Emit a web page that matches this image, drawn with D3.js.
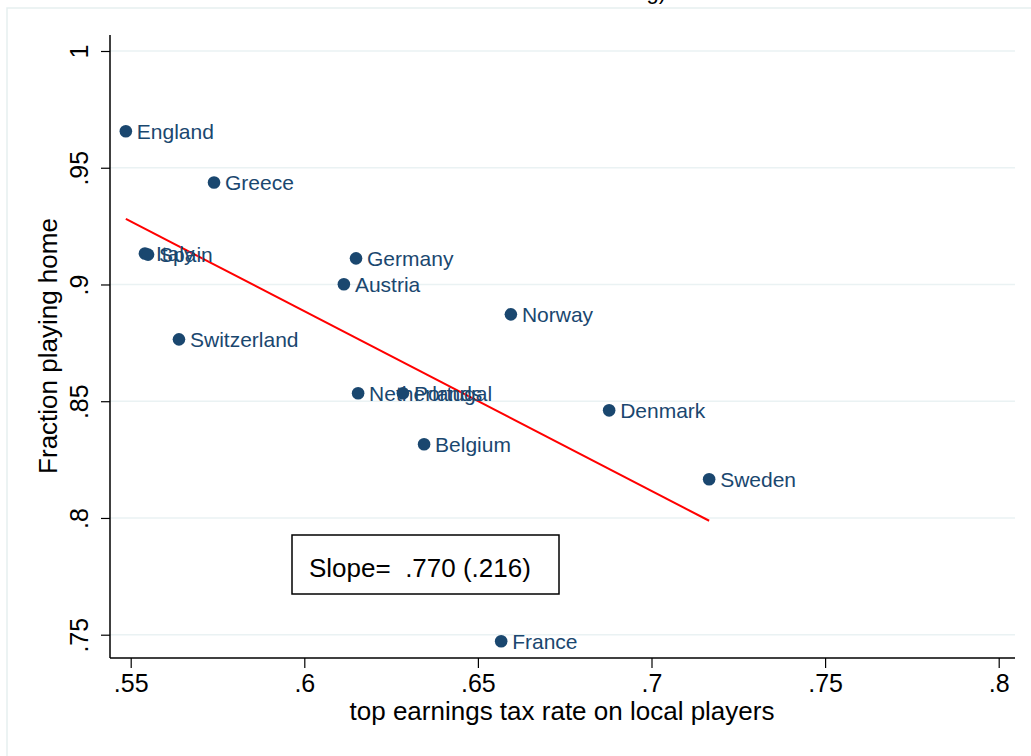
<!DOCTYPE html>
<html><head><meta charset="utf-8">
<script src="https://cdn.jsdelivr.net/npm/d3@7"></script>
<style>body{margin:0;background:#fff}svg{display:block;font-family:"Liberation Sans",Arial,sans-serif}</style>
</head><body>
<svg id="c" width="1031" height="756"></svg>
<script>
const countries = ["England","Greece","Italy","Spain","Germany","Austria","Norway","Switzerland","Netherlands","Portugal","Denmark","Belgium","Sweden","France"];
const taxRate   = [0.5486,0.5740,0.5541,0.5550,0.6149,0.6114,0.6595,0.5639,0.6155,0.6284,0.6878,0.6345,0.7166,0.6567];
const fracHome  = [0.9656,0.9437,0.9133,0.9128,0.9112,0.9001,0.8872,0.8765,0.8534,0.8534,0.8461,0.8316,0.8166,0.7472];
const fitX = [0.5486,0.7166];
const fitY = [0.9281,0.7988];
const xTicks = [0.55,0.6,0.65,0.7,0.75,0.8];
const xTickLabels = [".55",".6",".65",".7",".75",".8"];
const yTicks = [0.75,0.8,0.85,0.9,0.95,1];
const yTickLabels = [".75",".8",".85",".9",".95","1"];
const slopeText = "Slope=  .770 (.216)";

const svg = d3.select("#c");
const navy = "#1a476f";
const x = d3.scaleLinear().domain([0.55,0.8]).range([130.7,998.7]);
const y = d3.scaleLinear().domain([0.75,1]).range([634.7,51]);

// outer frame
svg.append("path").attr("d","M7,756 V8 H1031").attr("fill","none").attr("stroke","#e6eff0").attr("stroke-width",1.5);
// clipped title
svg.append("text").attr("x",666).attr("y",-1).attr("text-anchor","end").attr("font-size",22).attr("fill","#000").text("ng)");

// gridlines
svg.append("g").selectAll("line").data(yTicks).join("line")
  .attr("x1",110).attr("x2",1015).attr("y1",d=>y(d)).attr("y2",d=>y(d))
  .attr("stroke","#eaf2f3").attr("stroke-width",1.5);

// axes
const yAxis = d3.axisLeft(y).tickValues(yTicks).tickFormat((d,i)=>yTickLabels[i]).tickSize(9).tickPadding(6);
const gy = svg.append("g").attr("transform","translate(110,0)").call(yAxis);
gy.select(".domain").attr("d","M0,35V658").attr("stroke","#000").attr("stroke-width",1.5);
gy.selectAll(".tick line").attr("stroke","#000").attr("stroke-width",1.2);
gy.selectAll(".tick text").attr("font-size",25).attr("fill","#000").attr("font-family","Liberation Sans, Arial, sans-serif")
  .attr("transform","rotate(-90)").attr("x",0).attr("y",-22).attr("dy",0).attr("text-anchor","middle");

const xAxis = d3.axisBottom(x).tickValues(xTicks).tickFormat((d,i)=>xTickLabels[i]).tickSize(10).tickPadding(5);
const gx = svg.append("g").attr("transform","translate(0,658)").call(xAxis);
gx.select(".domain").attr("d","M110,0H1015").attr("stroke","#000").attr("stroke-width",1.5);
gx.selectAll(".tick line").attr("stroke","#000").attr("stroke-width",1.2);
gx.selectAll(".tick text").attr("font-size",25).attr("fill","#000").attr("font-family","Liberation Sans, Arial, sans-serif").attr("dy","0.75em");

// axis titles
svg.append("text").attr("transform","translate(57,346) rotate(-90)").attr("text-anchor","middle").attr("font-size",26).text("Fraction playing home");
svg.append("text").attr("x",562).attr("y",720).attr("text-anchor","middle").attr("font-size",26).text("top earnings tax rate on local players");

// fit line
svg.append("line").attr("x1",x(fitX[0])).attr("y1",y(fitY[0])).attr("x2",x(fitX[1])).attr("y2",y(fitY[1]))
  .attr("stroke","#ff0000").attr("stroke-width",2);

// points
const pts = countries.map((c,i)=>({c,x:taxRate[i],y:fracHome[i]}));
svg.append("g").selectAll("circle").data(pts).join("circle")
  .attr("cx",d=>x(d.x)).attr("cy",d=>y(d.y)).attr("r",6.3).attr("fill",navy);
svg.append("g").selectAll("text").data(pts).join("text")
  .attr("x",d=>x(d.x)+11).attr("y",d=>y(d.y)+7.5).attr("font-size",21).attr("fill",navy).text(d=>d.c);

// slope box
svg.append("rect").attr("x",292).attr("y",535).attr("width",267).attr("height",59).attr("fill","#fff").attr("stroke","#000").attr("stroke-width",1.5);
svg.append("text").attr("x",309).attr("y",577).attr("font-size",26).attr("xml:space","preserve").style("white-space","pre").text(slopeText);
</script>
</body></html>
